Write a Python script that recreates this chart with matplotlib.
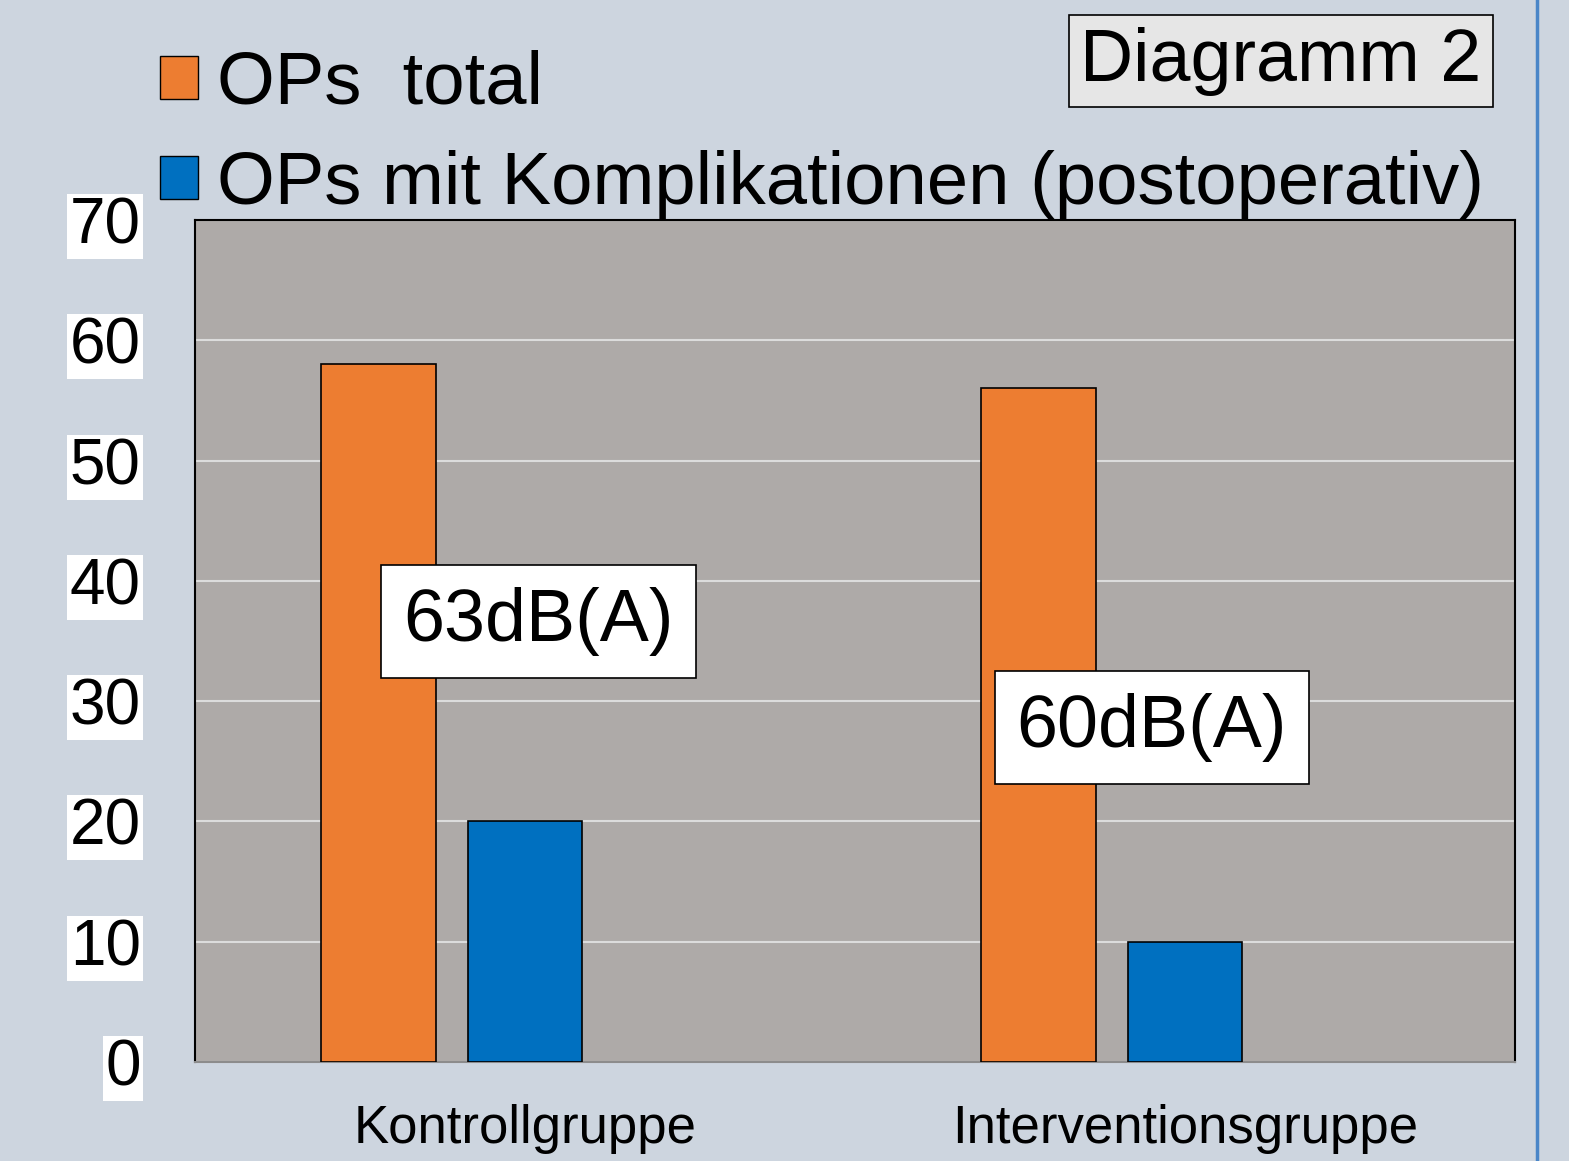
import numpy as np
import matplotlib.pyplot as plt
from matplotlib.lines import Line2D
from matplotlib.patches import Patch

plt.rcParams['font.family'] = ['Liberation Sans', 'DejaVu Sans']

# data
groups = ['Kontrollgruppe', 'Interventionsgruppe']
ops_total = [58, 56]
ops_kompl = [20, 10]
labels = ['OPs  total', 'OPs mit Komplikationen (postoperativ)']
noise = ['63dB(A)', '60dB(A)']
noise_pos = [(0.02, 36.6), (0.95, 27.8)]

bg = '#CDD5DF'
fig = plt.figure(figsize=(15.69, 11.61), dpi=100, facecolor=bg)
ax = fig.add_axes([195/1569, 1 - 1062/1161, 1320/1569, 842/1161])
ax.set_facecolor('#AEAAA8')

x = np.arange(len(groups))
w = 0.174
ax.bar(x - 0.222, ops_total, w, color='#ED7D31', edgecolor='black', linewidth=1.2, zorder=3)
ax.bar(x, ops_kompl, w, color='#0070C0', edgecolor='black', linewidth=1.2, zorder=3)

ax.set_xlim(-0.5, 1.5)
ax.set_ylim(0, 70)
ax.set_yticks(range(0, 71, 10))
ax.set_xticks(x)
ax.set_xticklabels(groups, fontsize=38)
ax.tick_params(axis='x', length=0, pad=30)
ax.tick_params(axis='y', length=0, pad=39, labelsize=46)
for t in ax.get_yticklabels():
    t.set_bbox(dict(facecolor='white', edgecolor='none', pad=2))
ax.yaxis.grid(True, color='#DCDCDC', linewidth=1.5, zorder=1)
ax.set_axisbelow(True)
for s in ['left', 'top', 'right']:
    ax.spines[s].set_color('black')
    ax.spines[s].set_linewidth(1.5)
ax.spines['bottom'].set_color('#8C8C8C')
ax.spines['bottom'].set_linewidth(1.5)

# noise level boxes
for txt, (px, py) in zip(noise, noise_pos):
    ax.text(px, py, txt, fontsize=53, ha='center', va='center', zorder=5,
            bbox=dict(facecolor='white', edgecolor='black', linewidth=1.2, boxstyle='square,pad=0.3'))

# legend
handles = [Patch(facecolor='#ED7D31', edgecolor='black'),
           Patch(facecolor='#0070C0', edgecolor='black')]
fig.legend(handles, labels, loc='upper left', bbox_to_anchor=(130/1569, 1 - 20/1161),
           frameon=False, fontsize=53.5, handlelength=0.52, handleheight=0.52,
           handletextpad=0.25, labelspacing=0.42, borderaxespad=0)

fig.text(1281/1569, 1 - 61/1161, 'Diagramm 2', fontsize=53, ha='center', va='center',
         bbox=dict(facecolor='#E6E6E6', edgecolor='black', linewidth=1.2, boxstyle='square,pad=0.16'))

fig.add_artist(Line2D([1537/1569, 1537/1569], [0, 1], color='#4A86C8', linewidth=2.5))

plt.savefig('out.png', dpi=100, facecolor=bg)
